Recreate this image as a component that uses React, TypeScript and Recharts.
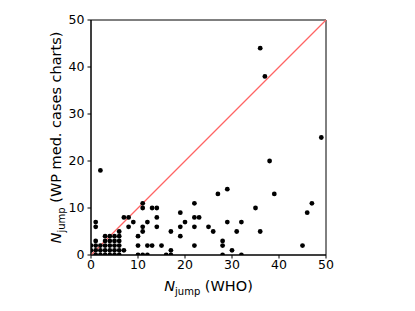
import { ScatterChart, Scatter, XAxis, YAxis, ReferenceArea, ReferenceLine, Label } from "recharts";

// N_jump per country: WHO series (x) vs WP medical cases charts (y)
const whoJumps = [
  36, 37, 49, 38, 2, 29, 27, 39, 47, 22, 11, 11, 13, 14, 35, 19, 46,
  7, 8, 14, 22, 23,
  1, 9, 12, 20, 29, 32,
  1, 8, 11, 14, 19, 22, 25,
  6, 11, 17, 26, 31, 36,
  3, 4, 5, 6, 10, 19,
  1, 3, 4, 5, 6, 28,
  0, 1, 2, 3, 4, 5, 6, 10, 12, 13, 15, 22, 28, 45,
  0, 1, 2, 3, 4, 5, 6, 7, 17, 30,
  1, 2, 3, 4, 5, 6, 10, 11, 12, 16, 17, 28, 32,
];
const wpJumps = [
  44, 38, 25, 20, 18, 14, 13, 13, 11, 11, 11, 10, 10, 10, 10, 9, 9,
  8, 8, 8, 8, 8,
  7, 7, 7, 7, 7, 7,
  6, 6, 6, 6, 6, 6, 6,
  5, 5, 5, 5, 5, 5,
  4, 4, 4, 4, 4, 4,
  3, 3, 3, 3, 3, 3,
  2, 2, 2, 2, 2, 2, 2, 2, 2, 2, 2, 2, 2, 2,
  1, 1, 1, 1, 1, 1, 1, 1, 1, 1,
  0, 0, 0, 0, 0, 0, 0, 0, 0, 0, 0, 0, 0,
];
// y = x reference line
const diagonal = [
  { x: 0, y: 0 },
  { x: 50, y: 50 },
];
const axisTicks = [0, 10, 20, 30, 40, 50];

const points = whoJumps.map((x, i) => ({ x, y: wpJumps[i] }));

const FONT = "DejaVu Sans, sans-serif";
const LINE_RED = "rgb(255, 100, 100)";

function Dot(props: any) {
  return <circle cx={props.cx} cy={props.cy} r={2.4} fill="#000" clipPath="url(#plotClip)" />;
}

// style (not the stroke attribute) so the colour isn't overridden
function DiagonalShape(props: any) {
  return (
    <line
      x1={props.x1}
      y1={props.y1}
      x2={props.x2}
      y2={props.y2}
      style={{ stroke: LINE_RED, strokeWidth: 1.25 }}
      fill="none"
    />
  );
}

function NJump({ x, y, rotate, suffix }: { x: number; y: number; rotate?: boolean; suffix: string }) {
  return (
    <text
      x={x}
      y={y}
      textAnchor="middle"
      fontFamily={FONT}
      fontSize={14.5}
      fill="#000"
      transform={rotate ? `rotate(-90 ${x} ${y})` : undefined}
    >
      <tspan fontStyle="italic">N</tspan>
      <tspan fontSize={10} dy={3.5}>jump</tspan>
      <tspan dy={-3.5}>{` ${suffix}`}</tspan>
    </text>
  );
}

export default function App() {
  return (
    <div style={{ position: "absolute", left: 0, top: 0, width: 415, height: 311, background: "#fff" }}>
      <ScatterChart width={415} height={311} margin={{ top: 20, right: 89, bottom: 0, left: 0 }}>
        <defs>
          <clipPath id="plotClip">
            <rect x={91} y={20} width={235} height={235} />
          </clipPath>
        </defs>
        <XAxis
          type="number"
          dataKey="x"
          domain={[0, 50]}
          ticks={axisTicks}
          height={56}
          tickSize={3.5}
          tickMargin={1.5}
          stroke="#000"
          tick={{ fontSize: 12.5, fill: "#000", fontFamily: FONT }}
          allowDataOverflow
        >
          <Label content={() => <NJump x={208.5} y={291} suffix="(WHO)" />} />
        </XAxis>
        <YAxis
          type="number"
          dataKey="y"
          domain={[0, 50]}
          ticks={axisTicks}
          width={91}
          tickSize={3.5}
          tickMargin={3}
          stroke="#000"
          tick={{ fontSize: 12.5, fill: "#000", fontFamily: FONT }}
          allowDataOverflow
        >
          <Label content={() => <NJump x={61} y={137.5} rotate suffix="(WP med. cases charts)" />} />
        </YAxis>
        <ReferenceArea x1={0} x2={50} y1={0} y2={50} fill="none" stroke="#000" strokeWidth={1} />
        <ReferenceLine
          segment={[diagonal[0], diagonal[1]]}
          stroke={LINE_RED}
          shape={DiagonalShape}
          ifOverflow="extendDomain"
        />
        <Scatter data={points} fill="#000" shape={<Dot />} isAnimationActive={false} />
      </ScatterChart>
    </div>
  );
}
